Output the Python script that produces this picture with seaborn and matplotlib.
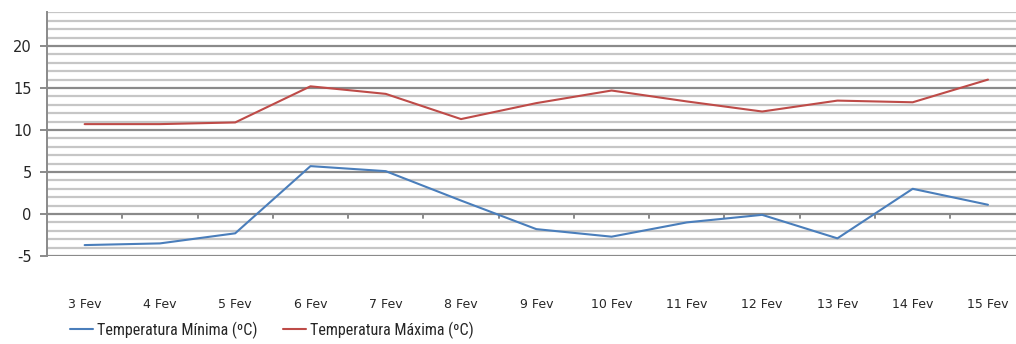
import matplotlib
matplotlib.use("Agg")
import matplotlib.pyplot as plt
import seaborn as sns
import pandas as pd
import numpy as np
from matplotlib import font_manager

days = ["3 Fev", "4 Fev", "5 Fev", "6 Fev", "7 Fev", "8 Fev", "9 Fev",
        "10 Fev", "11 Fev", "12 Fev", "13 Fev", "14 Fev", "15 Fev"]
temp_min = [-3.7, -3.5, -2.3, 5.7, 5.1, 1.6, -1.8, -2.7, -1.0, -0.1, -2.9, 3.0, 1.1]
temp_max = [10.7, 10.7, 10.9, 15.2, 14.3, 11.3, 13.2, 14.7, 13.4, 12.2, 13.5, 13.3, 16.0]
series_names = ["Temperatura Mínima (ºC)", "Temperatura Máxima (ºC)"]
colors = ["#4a7ebb", "#be4b48"]

df = pd.DataFrame({
    "dia": list(range(len(days))) * 2,
    "valor": temp_min + temp_max,
    "serie": [series_names[0]] * len(days) + [series_names[1]] * len(days),
})

sns.set_style("white")
avail = {f.name for f in font_manager.fontManager.ttflist}
narrow_candidates = ["Liberation Sans Narrow", "Roboto Condensed", "Open Sans Condensed",
                     "DejaVu Sans Condensed", "Liberation Sans"]
legend_font = next((f for f in narrow_candidates if f in avail), "DejaVu Sans")
plt.rcParams["font.family"] = ["DejaVu Sans"]

fig = plt.figure(figsize=(10.16, 3.44), dpi=100)
ax = fig.add_axes([47 / 1016, (344 - 256) / 344, 978.6 / 1016, (256 - 12.4) / 344])

ymin, ymax = -5, 24
for v in range(ymin, ymax + 1):
    if v % 5 == 0:
        ax.axhline(v, color="#8a8a8a", lw=1.6, zorder=1)
    else:
        ax.axhline(v, color="#c6c6c6", lw=1.6, zorder=1)

sns.lineplot(data=df, x="dia", y="valor", hue="serie", hue_order=series_names,
             palette=colors, lw=1.5, ax=ax, legend=False, zorder=3)

for b in np.arange(0.5, len(days) - 0.5, 1):
    ax.plot([b, b], [0, -0.45], color="#8a8a8a", lw=1.4, zorder=2)

ax.set_xlim(-0.5, len(days) - 0.5)
ax.set_ylim(ymin, ymax)
ax.set_yticks([-5, 0, 5, 10, 15, 20])
ax.set_yticklabels(["-5", "0", "5", "10", "15", "20"], fontsize=10.5)
ax.set_xticks(range(len(days)))
ax.set_xticklabels(days, fontsize=9)
ax.tick_params(axis="x", length=0, pad=30)
ax.tick_params(axis="y", left=True, length=5, width=1.4, color="#8a8a8a", pad=6)
ax.set_xlabel("")
ax.set_ylabel("")
for s in ["top", "right", "bottom"]:
    ax.spines[s].set_visible(False)
ax.spines["left"].set_color("#8a8a8a")
ax.spines["left"].set_linewidth(1.4)

handles = [plt.Line2D([], [], color=c, lw=1.5) for c in colors]
leg = fig.legend(handles, series_names, loc="center", bbox_to_anchor=(272 / 1016, 1 - 330 / 344),
                 ncol=2, frameon=False, prop={"family": legend_font, "size": 11.5},
                 handlelength=1.45, columnspacing=1.6, handletextpad=0.25)

fig.savefig("out.png", dpi=100)
